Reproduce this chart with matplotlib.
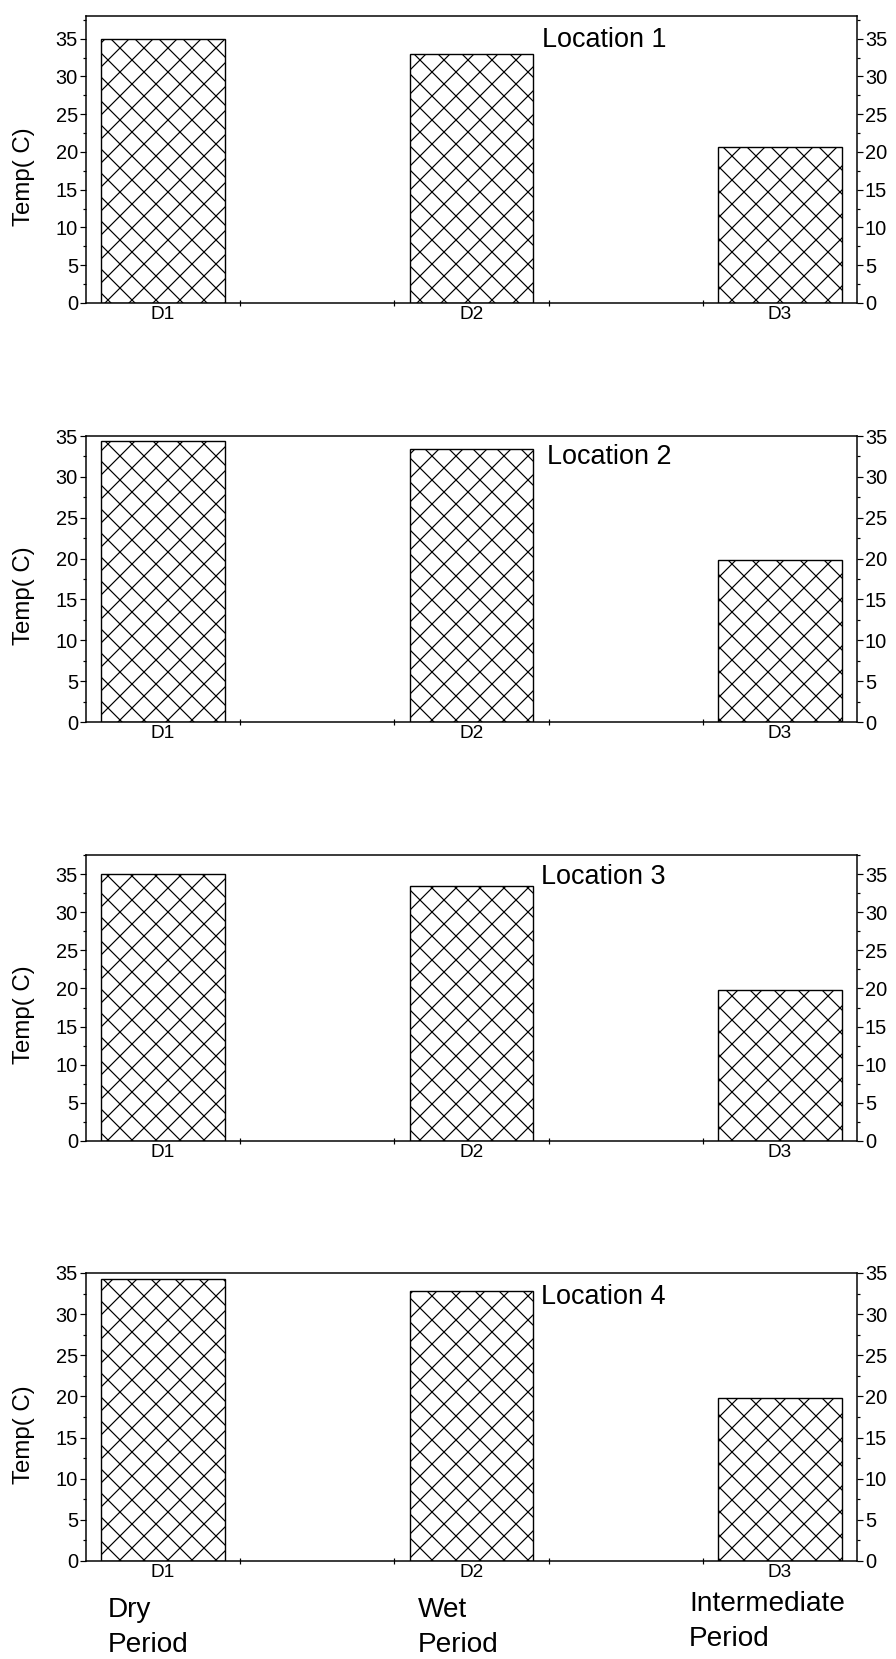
import matplotlib
matplotlib.use('Agg')
import matplotlib.pyplot as plt
from matplotlib.ticker import MultipleLocator, FixedLocator

plt.rcParams['font.family'] = ['Liberation Sans', 'DejaVu Sans']
plt.rcParams['hatch.linewidth'] = 0.6

# data
periods = ['D1', 'D2', 'D3']
locations = ['Location 1', 'Location 2', 'Location 3', 'Location 4']
temp_loc1 = [35.0, 33.0, 20.7]
temp_loc2 = [34.4, 33.4, 19.8]
temp_loc3 = [35.0, 33.4, 19.8]
temp_loc4 = [34.3, 32.8, 19.8]
ytops = [38, 35, 37.5, 35]
period_names = ['Dry\nPeriod', 'Wet\nPeriod', 'Intermediate\nPeriod']

DPI = 144
fig = plt.figure(figsize=(896 / DPI, 1659 / DPI), dpi=DPI)

# axes boxes in pixels of the reference: (top, bottom)
boxes = [(16, 303), (436, 722), (855, 1141), (1273, 1561)]
label_pos = [(0.591, 0.916), (0.598, 0.928), (0.590, 0.924), (0.590, 0.917)]
series = [temp_loc1, temp_loc2, temp_loc3, temp_loc4]

W, H = 896.0, 1659.0
xs = [1, 2, 3]
for i, (top, bot) in enumerate(boxes):
    ax = fig.add_axes([86 / W, 1 - bot / H, (857 - 86) / W, (bot - top) / H])
    ax.bar(xs, series[i], width=0.4, color='white', edgecolor='black',
           linewidth=0.7, hatch='xx', zorder=2)
    ax.set_xlim(0.75, 3.25)
    ax.set_ylim(0, ytops[i])

    ax.yaxis.set_major_locator(MultipleLocator(5))
    ax.yaxis.set_minor_locator(MultipleLocator(2.5))
    ax.set_yticks(range(0, 36, 5))
    ax.tick_params(axis='y', which='both', direction='out', left=True, right=True,
                   labelleft=True, labelright=True, labelsize=10, pad=1, width=0.6)
    ax.tick_params(axis='y', which='major', length=3)
    ax.tick_params(axis='y', which='minor', length=1.6)

    ax.set_xticks(xs)
    ax.set_xticklabels(periods)
    ax.xaxis.set_minor_locator(FixedLocator([1.25, 1.75, 2.25, 2.75]))
    ax.tick_params(axis='x', which='major', length=0, labelsize=9.5, pad=1.5)
    ax.tick_params(axis='x', which='minor', direction='inout', length=3, width=0.6)

    for sp in ax.spines.values():
        sp.set_linewidth(0.75)

    ax.set_ylabel('Temp( C)', fontsize=12)
    ax.yaxis.set_label_coords(-0.066, 0.44)

    ax.text(label_pos[i][0], label_pos[i][1], locations[i], transform=ax.transAxes,
            fontsize=13.5, ha='left', va='center')

# period names under the last panel
name_x = [108, 418, 689]
name_y = [1617, 1617, 1611]
for nx, ny, name in zip(name_x, name_y, period_names):
    first, second = name.split('\n')
    fig.text(nx / W, 1 - ny / H, first, fontsize=14, ha='left', va='baseline')
    fig.text(nx / W, 1 - (ny + 35) / H, second, fontsize=14, ha='left', va='baseline')

fig.savefig('out.png', dpi=DPI, facecolor='white')
